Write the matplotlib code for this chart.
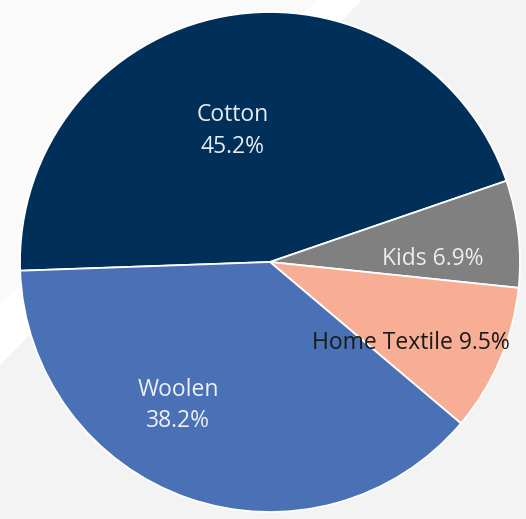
import numpy as np
import matplotlib
matplotlib.use("Agg")
import matplotlib.pyplot as plt
from matplotlib.patches import Polygon

labels = ["Cotton", "Kids", "Home Textile", "Woolen"]
shares = [45.2, 6.9, 9.5, 38.2]
colors = ["#002f5a", "#808080", "#f8ae95", "#4a71b5"]
text_colors = ["#e8ecf2", "#ececec", "#1a1a1a", "#eef1f7"]
two_line = [True, False, False, True]
# label placement: fraction of radius, shift (deg) from wedge middle
label_r = [0.545, 0.65, 0.65, 0.68]
label_shift = [5.4, -5.5, -7.0, -13.5]

plt.rcParams["font.family"] = ["Open Sans", "DejaVu Sans"]

W, H = 526, 519
fig = plt.figure(figsize=(W / 100, H / 100), dpi=100)

# background: light grey with a white diagonal band in the top-left
bg = fig.add_axes([0, 0, 1, 1])
bg.set_xlim(0, W)
bg.set_ylim(H, 0)
bg.axis("off")
bg.add_patch(Polygon([(0, 0), (W, 0), (W, H), (0, H)], color="#f3f3f3", lw=0))
bg.add_patch(Polygon([(0, 0), (362, 0), (0, 365)], color="#ffffff", lw=0))
bg.add_patch(Polygon([(0, 0), (318, 0), (0, 305)], color="#fafafa", lw=0))

ax = fig.add_axes([20 / W, 7 / H, 500 / W, 500 / H])
wedges, _ = ax.pie(shares, colors=colors, startangle=182, counterclock=False,
                   radius=1.0,
                   wedgeprops=dict(edgecolor="white", linewidth=1.3))
ax.set_xlim(-1, 1)
ax.set_ylim(-1, 1)
ax.set_aspect("equal")

for w, name, val, tc, tl, r, sh in zip(wedges, labels, shares, text_colors,
                                       two_line, label_r, label_shift):
    mid = np.deg2rad((w.theta1 + w.theta2) / 2 + sh)
    txt = f"{name}\n{val:.1f}%" if tl else f"{name} {val:.1f}%"
    ax.text(r * np.cos(mid), r * np.sin(mid), txt, ha="center", va="center",
            color=tc, fontsize=16.5, linespacing=1.4)

fig.savefig("out.png", dpi=100)
